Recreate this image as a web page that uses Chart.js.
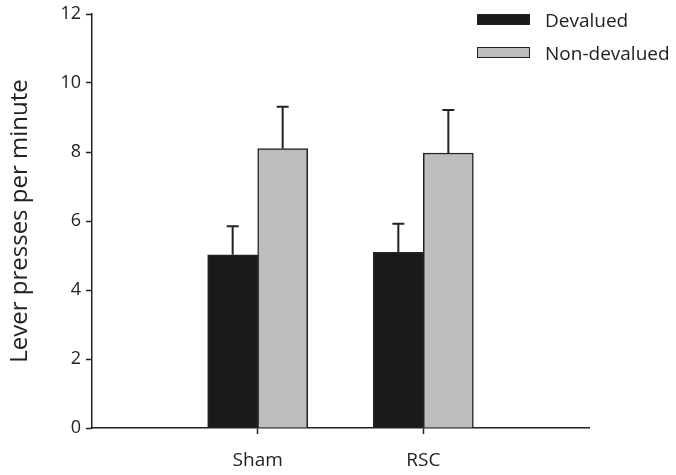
<!DOCTYPE html>
<html><head><meta charset="utf-8">
<script src="https://cdn.jsdelivr.net/npm/chart.js@4/dist/chart.umd.min.js"></script>
<style>
html,body{margin:0;padding:0;background:#fff;}
#wrap{position:relative;width:676px;height:475px;}
#legend{position:absolute;left:477px;top:3px;font-family:"Open Sans",sans-serif;font-size:19px;color:#222;}
.li{display:flex;align-items:center;height:33px;}
.sw{width:51px;height:9px;border:1.5px solid #222;margin-right:15px;}
</style></head>
<body><div id="wrap"><canvas id="c" width="676" height="475"></canvas>
<div id="legend"></div></div>
<script>
const categories = ['', 'Sham', 'RSC', ''];
const seriesNames = ['Devalued', 'Non-devalued'];
const devalued = [null, 5.02, 5.09, null];
const devaluedErr = [null, 0.83, 0.83, null];
const nonDevalued = [null, 8.1, 7.97, null];
const nonDevaluedErr = [null, 1.21, 1.25, null];
const yTicks = [0, 2, 4, 6, 8, 10, 12];
const colors = ['#1a1a1a', '#bdbdbd'];

const errorBars = {
  id: 'errorBars',
  afterDatasetsDraw(chart) {
    const ctx = chart.ctx, y = chart.scales.y;
    chart.data.datasets.forEach((ds, di) => {
      const meta = chart.getDatasetMeta(di);
      meta.data.forEach((bar, i) => {
        const v = ds.data[i], e = ds.err[i];
        if (v == null || e == null) return;
        const x = bar.x, y0 = y.getPixelForValue(v), y1 = y.getPixelForValue(v + e);
        ctx.save();
        ctx.strokeStyle = '#222'; ctx.lineWidth = 2;
        ctx.beginPath();
        ctx.moveTo(x, y0); ctx.lineTo(x, y1);
        ctx.moveTo(x - 6, y1); ctx.lineTo(x + 6, y1);
        ctx.stroke();
        ctx.restore();
      });
    });
  }
};

const chart = new Chart(document.getElementById('c'), {
  type: 'bar',
  data: {
    labels: categories,
    datasets: [
      { label: seriesNames[0], data: devalued, err: devaluedErr, backgroundColor: colors[0], borderColor: '#222', borderWidth: 1.5, barThickness: 50 },
      { label: seriesNames[1], data: nonDevalued, err: nonDevaluedErr, backgroundColor: colors[1], borderColor: '#222', borderWidth: 1.5, barThickness: 50 }
    ]
  },
  options: {
    responsive: false,
    animation: false,
    layout: { padding: { top: 4, right: 87, left: 6, bottom: 0 } },
    plugins: { legend: { display: false }, tooltip: { enabled: false } },
    scales: {
      x: {
        offset: false,
        grid: { display: true, offset: false, drawOnChartArea: false, drawTicks: true, tickLength: 6,
                tickColor: c => (c.index === 1 || c.index === 2) ? '#222' : 'rgba(0,0,0,0)', tickWidth: 1.5 },
        border: { display: true, color: '#222', width: 1.5 },
        ticks: { color: '#222', font: { family: 'Open Sans', size: 19 }, padding: 15, maxRotation: 0, autoSkip: false },
        afterFit(s) { s.height = 47; }
      },
      y: {
        min: 0, max: 12,
        afterBuildTicks(s) { s.ticks = yTicks.map(v => ({ value: v })); },
        grid: { display: true, drawOnChartArea: false, drawTicks: true, tickLength: 6, tickColor: '#222', tickWidth: 1.5 },
        border: { display: true, color: '#222', width: 1.5 },
        ticks: { color: '#222', font: { family: 'Open Sans', size: 18, lineHeight: 1 }, padding: 5 },
        title: { display: true, text: 'Lever presses per minute', color: '#222', font: { family: 'Open Sans', size: 24 }, padding: 0 },
        afterFit(s) { s.width = 86; }
      }
    }
  },
  plugins: [errorBars]
});

const lg = document.getElementById('legend');
seriesNames.forEach((n, i) => {
  const d = document.createElement('div'); d.className = 'li';
  const sw = document.createElement('span'); sw.className = 'sw'; sw.style.background = colors[i];
  const t = document.createElement('span'); t.textContent = n;
  d.appendChild(sw); d.appendChild(t); lg.appendChild(d);
});
</script></body></html>
